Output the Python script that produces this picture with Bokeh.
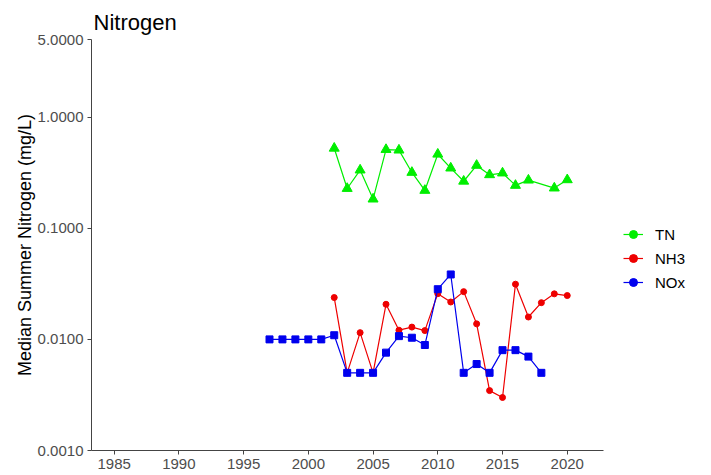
from bokeh.plotting import figure
from bokeh.models import FixedTicker, PrintfTickFormatter, Legend, LegendItem, ColumnDataSource, Range1d
from bokeh.embed import file_html
from bokeh.resources import INLINE

tn_years = [2002, 2003, 2004, 2005, 2006, 2007, 2008, 2009, 2010, 2011, 2012, 2013, 2014, 2015, 2016, 2017, 2019, 2020]
tn_vals = [0.525, 0.228, 0.334, 0.183, 0.511, 0.505, 0.318, 0.219, 0.464, 0.348, 0.265, 0.368, 0.303, 0.314, 0.243, 0.271, 0.230, 0.273]

nh3_years = [2002, 2003, 2004, 2005, 2006, 2007, 2008, 2009, 2010, 2011, 2012, 2013, 2014, 2015, 2016, 2017, 2018, 2019, 2020]
nh3_vals = [0.0238, 0.005, 0.0115, 0.005, 0.0207, 0.0121, 0.0129, 0.0120, 0.0258, 0.0217, 0.0269, 0.0138, 0.00346, 0.0030, 0.0314, 0.0159, 0.0214, 0.0257, 0.0248]

nox_years = [1997, 1998, 1999, 2000, 2001, 2002, 2003, 2004, 2005, 2006, 2007, 2008, 2009, 2010, 2011, 2012, 2013, 2014, 2015, 2016, 2017, 2018]
nox_vals = [0.01, 0.01, 0.01, 0.01, 0.01, 0.0109, 0.005, 0.005, 0.005, 0.0076, 0.0107, 0.01035, 0.0089, 0.0283, 0.0384, 0.005, 0.006, 0.005, 0.008, 0.008, 0.007, 0.005]

x_ticks = [1985, 1990, 1995, 2000, 2005, 2010, 2015, 2020]
y_ticks = [0.001, 0.01, 0.1, 1.0, 5.0]
x_lo, x_hi = 1983.25, 2022.8
y_lo, y_hi = 0.001, 5.0

FONT = "Liberation Sans"
AX = "#444444"

W, H = 710, 474
LEFT, RIGHT_AXIS_END, RIGHT_EDGE, TOP, BOTTOM = 91, 603, 708, 39, 450
ppu = (RIGHT_AXIS_END - LEFT) / (x_hi - x_lo)
x_end = x_hi + (RIGHT_EDGE - RIGHT_AXIS_END) / ppu

p = figure(width=W, height=H, y_axis_type="log", output_backend="svg", toolbar_location=None,
           x_range=Range1d(x_lo, x_end), y_range=Range1d(y_lo, y_hi),
           min_border_left=LEFT, min_border_right=W - RIGHT_EDGE, min_border_top=TOP,
           min_border_bottom=H - BOTTOM)

p.title.text = "Nitrogen"
p.title.text_font = FONT
p.title.text_font_size = "22px"
p.title.text_font_style = "normal"
p.title.align = "left"
p.title.offset = 2
p.title.standoff = 9
p.title.text_color = "black"

p.xgrid.visible = False
p.ygrid.visible = False
p.outline_line_color = None

for ax in (p.xaxis[0], p.yaxis[0]):
    ax.axis_line_color = AX
    ax.major_tick_line_color = AX
    ax.major_tick_out = 4
    ax.major_tick_in = 0
    ax.minor_tick_line_color = None
    ax.major_label_text_font = FONT
    ax.major_label_text_font_size = "15px"
    ax.major_label_text_color = "#4d4d4d"
    ax.major_label_standoff = 4

p.xaxis.bounds = (x_lo, x_hi)
p.xaxis.ticker = FixedTicker(ticks=x_ticks)
p.yaxis.ticker = FixedTicker(ticks=y_ticks)
p.yaxis.formatter = PrintfTickFormatter(format="%.4f")
p.yaxis.axis_label = "Median Summer Nitrogen (mg/L)"
p.yaxis.axis_label_text_font = FONT
p.yaxis.axis_label_text_font_size = "18px"
p.yaxis.axis_label_text_font_style = "normal"
p.yaxis.axis_label_text_color = "black"
p.yaxis.axis_label_standoff = 0

series = [
    ("TN", tn_years, tn_vals, "#00ee00", "triangle", 10),
    ("NH3", nh3_years, nh3_vals, "#ee0000", "circle", 6),
    ("NOx", nox_years, nox_vals, "#0000ee", "square", 7),
]

items = []
for name, xs, ys, col, mk, sz in series:
    src = ColumnDataSource(dict(x=xs, y=ys))
    ln = p.line("x", "y", source=src, line_color=col, line_width=1.2)
    p.scatter("x", "y", source=src, marker=mk, size=sz, fill_color=col, line_color=col)
    dummy = p.scatter(x=[float("nan")], y=[float("nan")], marker="circle", size=5,
                      fill_color=col, line_color=col)
    items.append(LegendItem(label=name, renderers=[ln, dummy]))

legend = Legend(items=items, location=(623 - LEFT, BOTTOM - 292), orientation="vertical")
legend.label_text_font = FONT
legend.label_text_font_size = "15px"
legend.label_text_color = "black"
legend.glyph_width = 20
legend.glyph_height = 20
legend.spacing = 4
legend.label_standoff = 12
legend.border_line_color = None
legend.background_fill_alpha = 0
legend.padding = 5
legend.margin = 0
p.add_layout(legend, "center")

open("out.html", "w").write(file_html(p, INLINE))
